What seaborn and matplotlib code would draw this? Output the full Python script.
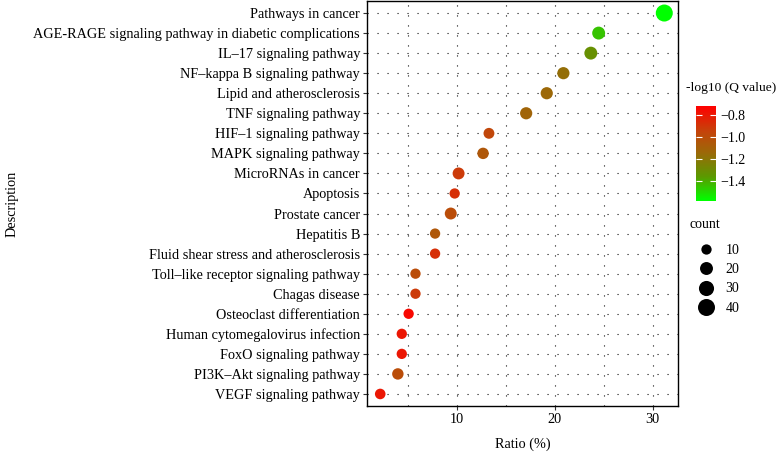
import numpy as np
import pandas as pd
import seaborn as sns
import matplotlib
matplotlib.use("Agg")
from matplotlib import pyplot as plt
from matplotlib.colors import LinearSegmentedColormap, Normalize
from matplotlib.lines import Line2D
import matplotlib.colorbar as mcolorbar

# pathways listed top to bottom as in the figure
pathways = [
    "Pathways in cancer",
    "AGE-RAGE signaling pathway in diabetic complications",
    "IL\u201317 signaling pathway",
    "NF\u2013kappa B signaling pathway",
    "Lipid and atherosclerosis",
    "TNF signaling pathway",
    "HIF\u20131 signaling pathway",
    "MAPK signaling pathway",
    "MicroRNAs in cancer",
    "Apoptosis",
    "Prostate cancer",
    "Hepatitis B",
    "Fluid shear stress and atherosclerosis",
    "Toll\u2013like receptor signaling pathway",
    "Chagas disease",
    "Osteoclast differentiation",
    "Human cytomegalovirus infection",
    "FoxO signaling pathway",
    "PI3K\u2013Akt signaling pathway",
    "VEGF signaling pathway",
]
ratio = [31.2, 24.5, 23.7, 20.9, 19.2, 17.1, 13.3, 12.7, 10.2, 9.8,
         9.4, 7.8, 7.8, 5.8, 5.8, 5.1, 4.4, 4.4, 4.0, 2.2]
count = [45, 20, 20, 17, 17, 17, 12, 14, 16, 8,
         16, 10, 8, 9, 9, 6, 4, 4, 14, 11]
neg_log_q = [-1.58, -1.45, -1.32, -1.17, -1.14, -1.12, -0.97, -1.05, -0.92, -0.88,
             -1.00, -1.05, -0.88, -1.00, -0.92, -0.75, -0.80, -0.80, -1.00, -0.80]

cbar_ticks = [-0.8, -1.0, -1.2, -1.4]
size_ticks = [10, 20, 30, 40]

df = pd.DataFrame({"Description": pathways, "Ratio": ratio,
                   "count": count, "logq": neg_log_q})

plt.rcParams["font.family"] = ["Liberation Serif", "DejaVu Serif"]
plt.rcParams["font.size"] = 10.3

qmin, qmax = -1.58, -0.72
cmap = LinearSegmentedColormap.from_list(
    "gr", [(0.0, "#00ff00"), (0.25, "#5a9a00"), (0.5, "#9a6a08"),
           (0.75, "#c8400a"), (1.0, "#ff0000")])
smin, smax = 55, 150

fig = plt.figure(figsize=(7.79, 4.53), dpi=100)
ax = fig.add_axes([367 / 779, 1 - 406 / 453, 311 / 779, 405 / 453])

sns.scatterplot(data=df, x="Ratio", y="Description", hue="logq", palette=cmap,
                hue_norm=(qmin, qmax), size="count", sizes=(smin, smax),
                size_norm=(10, 40), linewidth=0, legend=False, ax=ax, zorder=3)

ax.set_xlim(0.85, 32.6)
ax.set_ylim(len(pathways) - 0.4, -0.6)
ax.set_xticks([10, 20, 30])
ax.set_xticks([5, 15, 25], minor=True)
ax.grid(True, which="both", axis="x", color="#111111", lw=0.8, ls=(0, (1, 8)))
ax.grid(True, which="major", axis="y", color="#111111", lw=0.8, ls=(0, (1, 8)))
ax.set_axisbelow(True)
ax.tick_params(axis="x", which="minor", length=0)
ax.tick_params(axis="both", which="major", length=3, width=0.8, color="#333333",
               labelsize=10.3, pad=2)
for s in ax.spines.values():
    s.set_color("black")
    s.set_linewidth(1.0)
ax.set_xlabel("Ratio (%)", fontsize=10.3, labelpad=8)
ax.set_ylabel("Description", fontsize=10.3)
ax.yaxis.set_label_coords(-1.12, 0.5)

# colour bar
cax = fig.add_axes([696 / 779, 1 - 200.7 / 453, 19.7 / 779, 94.7 / 453])
cb = mcolorbar.ColorbarBase(cax, cmap=cmap, norm=Normalize(qmin, qmax))
cb.outline.set_visible(False)
cb.set_ticks(cbar_ticks)
cb.set_ticklabels([f"\u2212{abs(t):.1f}" for t in cbar_ticks])
cax.tick_params(axis="y", direction="in", color="white", length=4, width=0.8,
                left=True, right=True, labelsize=10, pad=3)
fig.text(686 / 779, 1 - 88 / 453, "-log10 (Q value)", fontsize=9.7, va="center")

# size legend
def marker_diam(c):
    return np.sqrt(smin + (smax - smin) * (c - 10) / 30)

fig.text(690 / 779, 1 - 225 / 453, "count", fontsize=10, va="center")
handles = [Line2D([], [], ls="", marker="o", color="black",
                  markersize=marker_diam(c), markeredgewidth=0) for c in size_ticks]
leg = fig.legend(handles, [str(c) for c in size_ticks],
                 loc="upper left", bbox_to_anchor=(692 / 779, 1 - 244 / 453),
                 frameon=False, fontsize=10,
                 labelspacing=0.45, handletextpad=0.4, handlelength=2.0,
                 borderpad=0, borderaxespad=0)

fig.savefig("out.png", dpi=100)
